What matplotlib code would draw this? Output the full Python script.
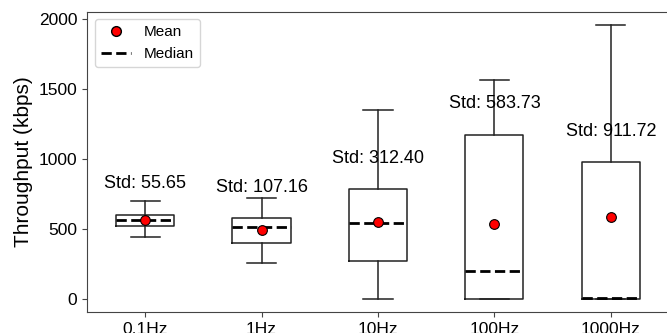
import matplotlib
matplotlib.use("Agg")
import matplotlib.pyplot as plt
from matplotlib.lines import Line2D

# data
labels = ["0.1Hz", "1Hz", "10Hz", "100Hz", "1000Hz"]
q1 = [522, 400, 272, 0, 0]
q3 = [600, 574, 781, 1170, 975]
medians = [560, 515, 540, 195, 3]
means = [560, 493, 550, 536, 581]
whis_lo = [443, 254, 0, 0, 0]
whis_hi = [695, 722, 1348, 1560, 1954]
stds = [55.65, 107.16, 312.40, 583.73, 911.72]

plt.rcParams['font.family'] = ['Liberation Sans', 'DejaVu Sans']

fig = plt.figure(figsize=(6.67, 3.33), dpi=100)
ax = fig.add_axes([0.1304, 0.0622, 0.8726, 0.9028])

stats = []
for i, lab in enumerate(labels):
    stats.append({
        "label": lab, "q1": q1[i], "q3": q3[i], "med": medians[i],
        "mean": means[i], "whislo": whis_lo[i], "whishi": whis_hi[i], "fliers": [],
    })

line_col = "#222222"
ax.bxp(stats, showmeans=True, widths=0.5,
       boxprops=dict(color=line_col, linewidth=1.1),
       whiskerprops=dict(color=line_col, linewidth=1.1),
       capprops=dict(color=line_col, linewidth=1.1),
       medianprops=dict(color="black", linewidth=2, linestyle="--"),
       meanprops=dict(marker="o", markerfacecolor="red", markeredgecolor="black",
                      markersize=7, markeredgewidth=0.8))

for i, s in enumerate(stds):
    ax.text(i + 1, q3[i] + 222, f"Std: {s:.2f}", ha="center", va="center", fontsize=13)

ax.set_xlim(0.5, 5.5)
ax.set_ylabel("Throughput (kbps)", fontsize=15)
ax.tick_params(labelsize=12.5, color="#444444")
for sp in ax.spines.values():
    sp.set_color("#444444")

handles = [
    Line2D([], [], marker="o", linestyle="none", markerfacecolor="red",
           markeredgecolor="black", markersize=7, label="Mean"),
    Line2D([], [], color="black", linestyle="--", linewidth=2, label="Median"),
]
ax.legend(handles=handles, loc="upper left", fontsize=11)

fig.savefig("out.png", dpi=100)
